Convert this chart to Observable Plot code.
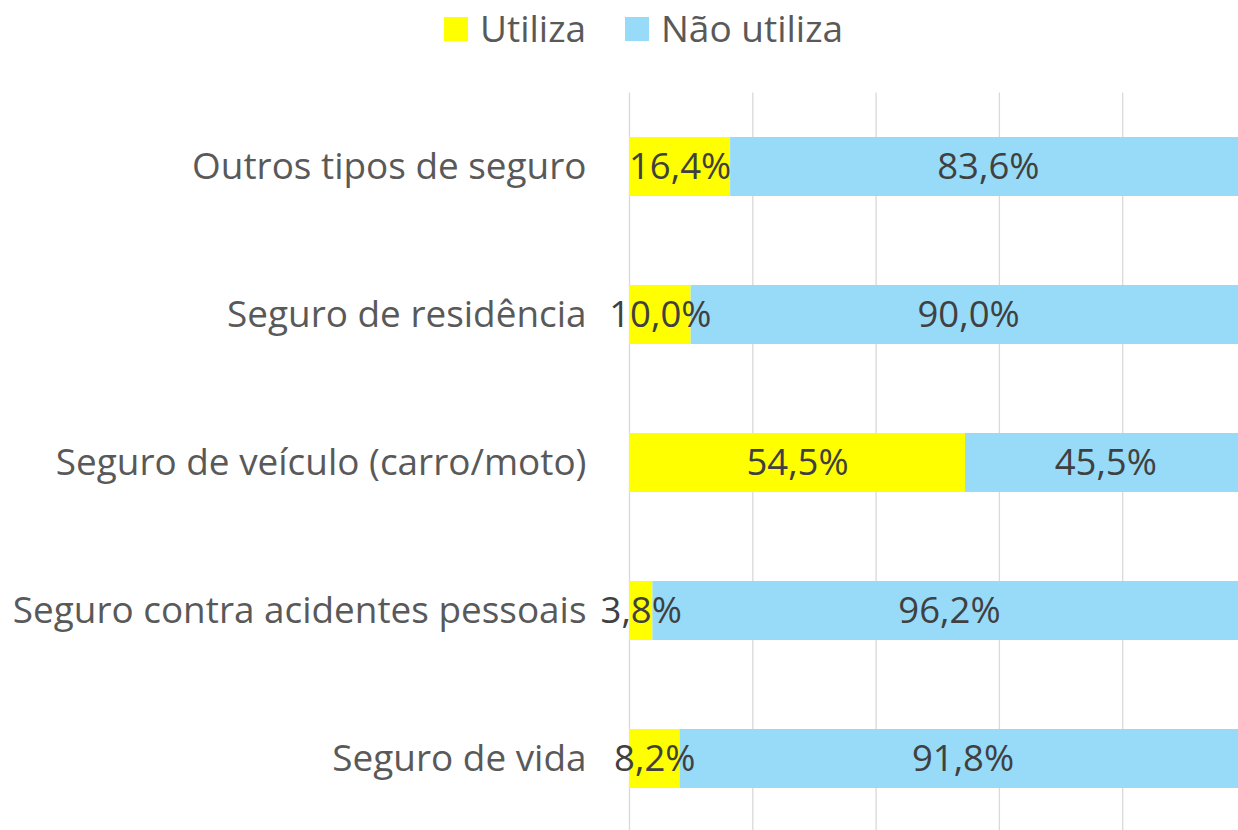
<!DOCTYPE html>
<html>
<head>
<meta charset="utf-8">
<script src="https://cdn.jsdelivr.net/npm/d3@7"></script>
<script src="https://cdn.jsdelivr.net/npm/@observablehq/plot@0.6"></script>
<style>
  html, body { margin: 0; padding: 0; background: #fff; overflow: hidden; }
  #legend { position: relative; height: 60px; width: 1238px; font-family: "Open Sans", sans-serif; font-size: 37px; color: #595959; }
  .sw { position: absolute; top: 17px; width: 24px; height: 24px; }
  .lt { position: absolute; top: -2px; line-height: 60px; height: 60px; white-space: nowrap; }
</style>
</head>
<body>
<div id="legend"></div>
<div id="chart"></div>
<script>
const categories = [
  "Outros tipos de seguro",
  "Seguro de residência",
  "Seguro de veículo (carro/moto)",
  "Seguro contra acidentes pessoais",
  "Seguro de vida"
];
const seriesNames = ["Utiliza", "Não utiliza"];
const seriesColors = ["#FFFF00", "#97DBF9"];
const utiliza = [16.4, 10.0, 54.5, 3.8, 8.2];
const naoUtiliza = [83.6, 90.0, 45.5, 96.2, 91.8];
const gridTicks = [0, 20, 40, 60, 80, 100];

const data = [];
categories.forEach((c, i) => {
  data.push({cat: c, series: seriesNames[0], value: utiliza[i]});
  data.push({cat: c, series: seriesNames[1], value: naoUtiliza[i]});
});

// Legend
const legend = document.getElementById("legend");
const legendPos = [[444, 480], [625, 661]];
seriesNames.forEach((s, i) => {
  const sw = document.createElement("div");
  sw.className = "sw";
  sw.style.left = legendPos[i][0] + "px";
  sw.style.background = seriesColors[i];
  legend.appendChild(sw);
  const t = document.createElement("div");
  t.className = "lt";
  t.style.left = legendPos[i][1] + "px";
  t.textContent = s;
  legend.appendChild(t);
});

const fmt = v => v.toFixed(1).replace(".", ",") + "%";

const chart = Plot.plot({
  width: 1238,
  height: 770,
  marginTop: 32.5,
  marginBottom: -2.5,
  marginLeft: 629,
  marginRight: -7.5,
  style: {fontFamily: "'Open Sans', sans-serif", background: "white"},
  x: {domain: [0, 100], axis: null},
  y: {domain: categories, axis: null, paddingInner: 0.6, paddingOuter: 0.3},
  color: {domain: seriesNames, range: seriesColors},
  marks: [
    Plot.ruleX(gridTicks, {stroke: "#d9d9d9", strokeWidth: 1.3}),
    Plot.barX(data, {x: "value", y: "cat", fill: "series", order: seriesNames}),
    Plot.text(data, Plot.stackX({x: "value", y: "cat", z: "series", order: seriesNames, text: d => fmt(d.value), fontSize: 36.5, fill: "#404040"})),
    Plot.text(categories, {x: 0, y: d => d, text: d => d, textAnchor: "end", dx: -43, fontSize: 36.9, fill: "#595959"})
  ]
});
document.getElementById("chart").appendChild(chart);
</script>
</body>
</html>
